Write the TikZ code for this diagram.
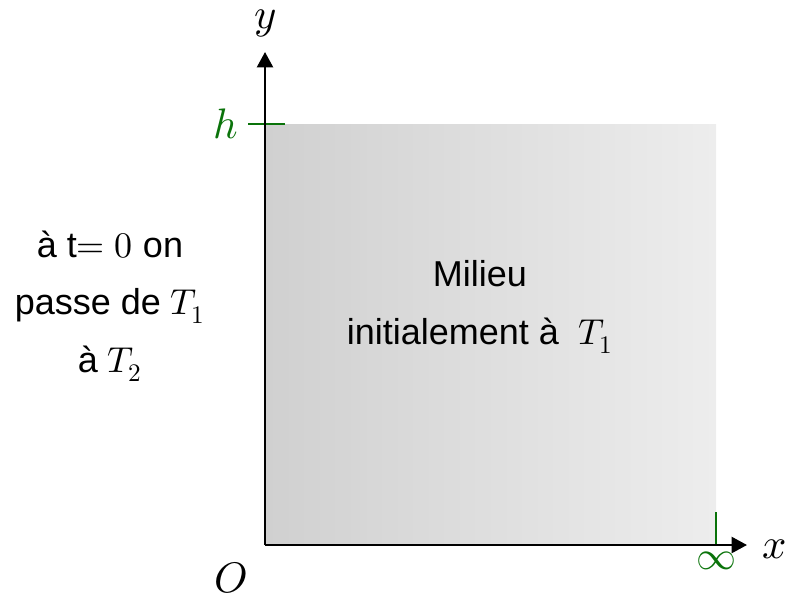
\documentclass[tikz,border=0pt]{standalone}
\usepackage{fontspec}
\usepackage{unicode-math}
\setmainfont{Liberation Sans}
\setmathfont{Latin Modern Math}
\usetikzlibrary{arrows.meta}
\definecolor{tickgreen}{RGB}{10,115,10}
\tikzset{
  axis/.style={line width=1.7pt,-{Triangle[length=11.5pt,width=12pt]}},
  tick/.style={line width=1.4pt,draw=tickgreen},
  lbl/.style={inner sep=0pt,font=\fontsize{32}{36}\selectfont},
  txt/.style={inner sep=0pt,align=center,font=\fontsize{27}{43}\selectfont},
}
\begin{document}
\begin{tikzpicture}[x=0.75pt,y=-0.75pt]
\useasboundingbox (0,0) rectangle (786,596);
\shade[left color={rgb,255:red,208;green,208;blue,208},right color={rgb,255:red,237;green,237;blue,237}] (265,124) rectangle (716,545);
\coordinate (O) at (265,545);
\coordinate (xe) at (747,545);
\coordinate (ye) at (265,52);
\coordinate (h1) at (248,124);
\coordinate (h2) at (285,124);
\coordinate (i1) at (716,512);
\coordinate (i2) at (716,545);
\draw[tick] (h1) -- (h2);
\draw[tick] (i1) -- (i2);
\draw[axis] (O) -- (ye);
\draw[axis] (O) -- (xe);
\node[lbl] (ylab) at (266,23) {$y$};
\node[lbl] (xlab) at (775,549) {$x$};
\node[lbl] (olab) at (231,578) {$O$};
\node[lbl,text=tickgreen] (hlab) at (226,124) {$h$};
\node[inner sep=0pt,font=\fontsize{30}{34}\selectfont,text=tickgreen] (inf) at (716,561) {$\infty$};
\node[txt] (left) at (110,306) {à t$= 0$ on\\passe de $T_1$\\à $T_2$};
\node[txt] (mid) at (480,307) {Milieu\\initialement à \ $T_1$};
\end{tikzpicture}
\end{document}
